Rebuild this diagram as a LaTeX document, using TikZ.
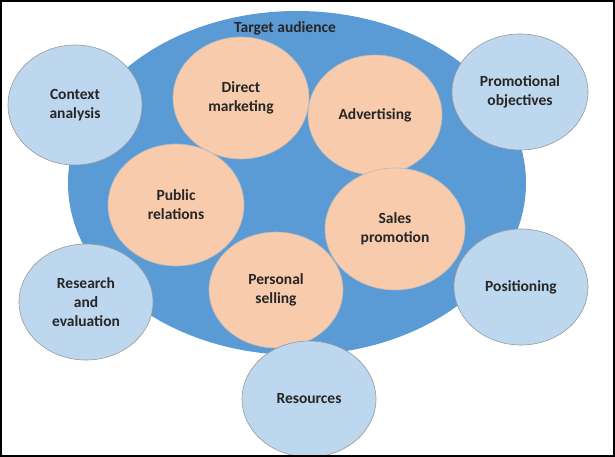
\documentclass[tikz,border=0pt]{standalone}
\usepackage{fontspec}
\setmainfont{Carlito}
\usetikzlibrary{shapes.geometric}
\definecolor{audblue}{HTML}{5B9BD5}
\definecolor{toolpeach}{HTML}{F8CBAD}
\definecolor{factblue}{HTML}{BDD7EE}
\begin{document}
\begin{tikzpicture}[x=1pt, y=-1pt,
		font=\fontsize{15.5}{19}\selectfont\bfseries,
		tool/.style={ellipse, fill=toolpeach, draw=gray!55, line width=0.6pt, align=center, text=black!85, minimum width=136pt, minimum height=122pt, inner sep=0pt},
		fact/.style={ellipse, fill=factblue, draw=gray!80, line width=0.6pt, align=center, text=black!85, minimum width=134pt, minimum height=116pt, inner sep=0pt}]
		\useasboundingbox (0,0) rectangle (615,457);
		\fill[white] (0,0) rectangle (615,457);

		\node[ellipse, fill=audblue, minimum width=458pt, minimum height=344pt] (aud) at (297,183) {};
		\node[text=black!85] (audlbl) at (285,28) {Target audience};

		\node[tool] (dm) at (241,98) {Direct\\marketing};
		\node[tool, minimum width=134pt, minimum height=120pt] (adv) at (375,115) {Advertising};
		\node[tool] (pr) at (176,205) {Public\\relations};
		\node[tool, minimum width=140pt] (sp) at (395,229) {Sales\\promotion};
		\node[tool, minimum width=134pt, minimum height=116pt] (ps) at (276,290) {Personal\\selling};

		\node[fact, minimum height=120pt] (ca) at (75,105) {Context\\analysis};
		\node[fact, minimum width=136pt] (po) at (520,92) {Promotional\\objectives};
		\node[fact] (re) at (86,302) {Research\\and\\evaluation};
		\node[fact] (pos) at (521,287) {Positioning};
		\node[fact] (res) at (309,399) {Resources};

		\draw[line width=2pt] (1,1) rectangle (614,456);
	\end{tikzpicture}
\end{document}
